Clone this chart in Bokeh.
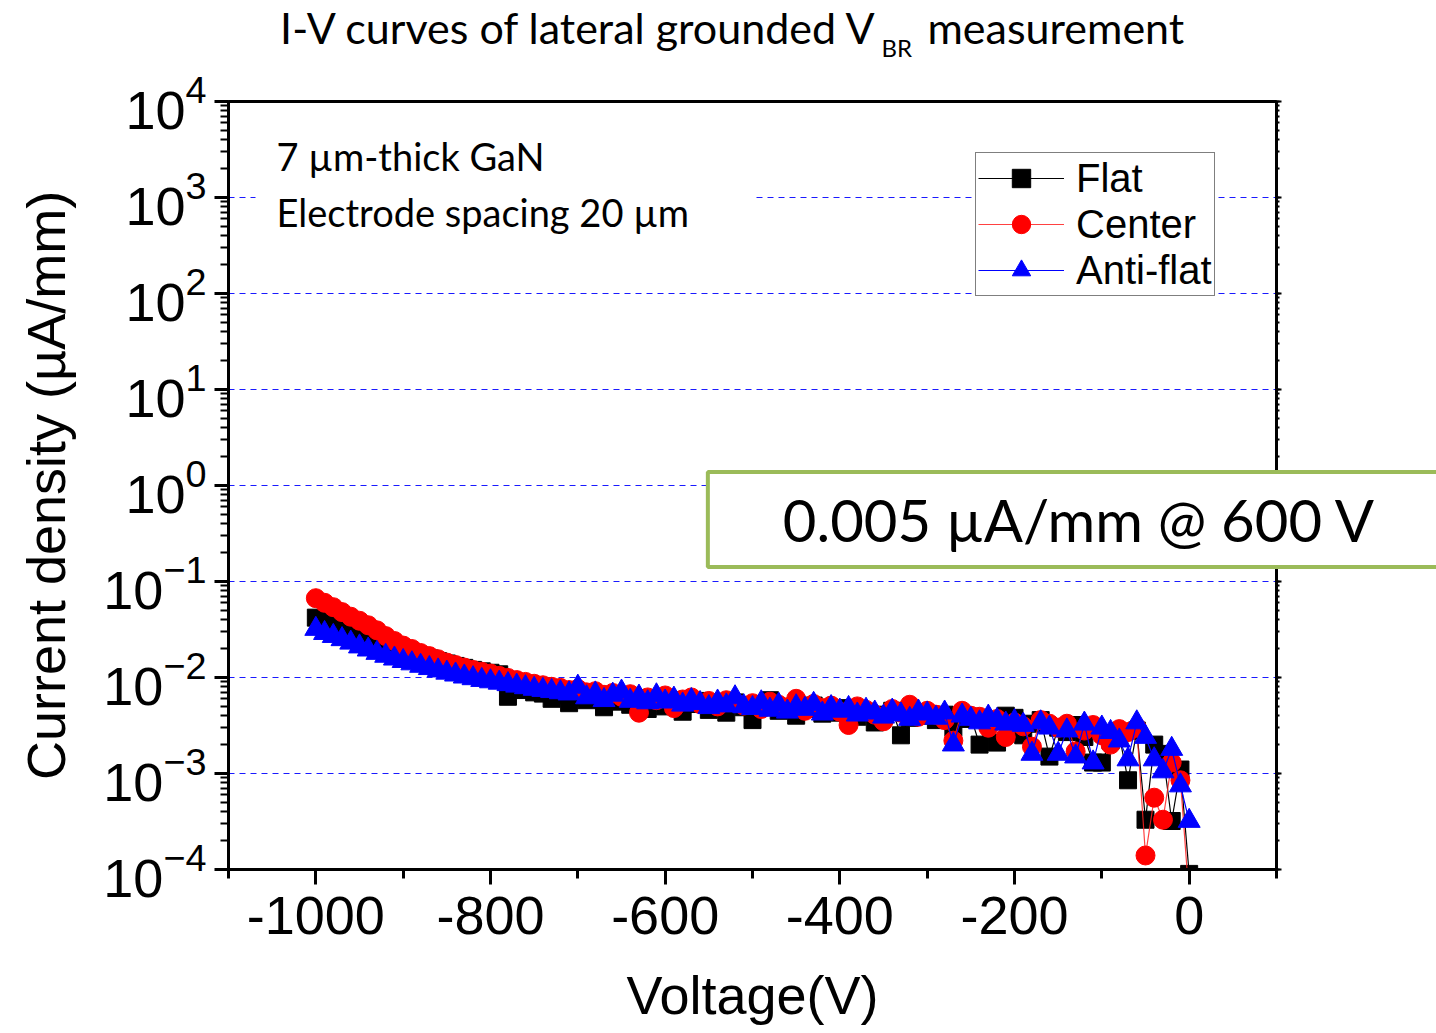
from bokeh.plotting import figure
from bokeh.models import (LogAxis, LogTicker, SingleIntervalTicker, Label, Legend,
                          LegendItem, ColumnDataSource, Range1d, GridBox, Column,
                          CustomJSTickFormatter)
from bokeh.embed import file_html
from bokeh.resources import INLINE

# Voltage sweep (V), 10 V steps
voltage = list(range(-1000, 10, 10))

# Current density (uA/mm)
flat = [
    0.042, 0.039, 0.036, 0.033, 0.031, 0.029, 0.027, 0.025, 0.023, 0.021,
    0.0195, 0.018, 0.0168, 0.0158, 0.0148, 0.014, 0.0132, 0.0126, 0.012, 0.0116,
    0.0112, 0.0108, 0.0063, 0.0080, 0.0074, 0.0070, 0.0068, 0.0060, 0.0066, 0.0054,
    0.0062, 0.0058, 0.0065, 0.0049, 0.0060, 0.0056, 0.0052, 0.0061, 0.0047, 0.0055,
    0.0050, 0.0058, 0.0044, 0.0053, 0.0057, 0.0046, 0.0051, 0.0043, 0.0055, 0.0049,
    0.0036, 0.0052, 0.0058, 0.0045, 0.0049, 0.0040, 0.0047, 0.0051, 0.0042, 0.0046,
    0.0043, 0.0048, 0.0039, 0.0044, 0.0034, 0.0041, 0.0045, 0.0025, 0.0038, 0.0042,
    0.0040, 0.0036, 0.0041, 0.0030, 0.0037, 0.0039, 0.0020, 0.0035, 0.0021, 0.0040,
    0.0038, 0.0025, 0.0033, 0.0036, 0.0015, 0.0030, 0.0027, 0.0032, 0.0024, 0.0013,
    0.0013, 0.0022, 0.0025, 0.00085, 0.0028, 0.00033, 0.0020, 0.0016, 0.00032, 0.0011,
    0.00009,
]
center = [
    0.067, 0.060, 0.054, 0.048, 0.043, 0.039, 0.035, 0.031, 0.027, 0.024,
    0.0215, 0.0198, 0.0180, 0.0167, 0.0155, 0.0143, 0.0135, 0.0127, 0.0120, 0.0115,
    0.0110, 0.0104, 0.0099, 0.0094, 0.0090, 0.0086, 0.0083, 0.0080, 0.0078, 0.0074,
    0.0076, 0.0070, 0.0072, 0.0066, 0.0069, 0.0063, 0.0067, 0.0043, 0.0062, 0.0058,
    0.0065, 0.0048, 0.0059, 0.0062, 0.0053, 0.0057, 0.0050, 0.0058, 0.0055, 0.0051,
    0.0054, 0.0047, 0.0056, 0.0052, 0.0049, 0.0060, 0.0045, 0.0053, 0.0048, 0.0051,
    0.0044, 0.0032, 0.0050, 0.0046, 0.0041, 0.0035, 0.0047, 0.0043, 0.0052, 0.0039,
    0.0045, 0.0041, 0.0036, 0.0022, 0.0045, 0.0040, 0.0039, 0.0030, 0.0037, 0.0024,
    0.0034, 0.0031, 0.0019, 0.0036, 0.0033, 0.0030, 0.0033, 0.0017, 0.0028, 0.0032,
    0.0025, 0.0020, 0.0029, 0.0027, 0.0030, 0.00014, 0.00056, 0.00033, 0.0013, 0.00085,
    0.00005,
]
anti_flat = [
    0.032, 0.029, 0.027, 0.025, 0.023, 0.021, 0.0195, 0.018, 0.0168, 0.0157,
    0.0148, 0.0140, 0.0132, 0.0125, 0.0118, 0.0112, 0.0107, 0.0102, 0.0098, 0.0094,
    0.0091, 0.0088, 0.0085, 0.0082, 0.0079, 0.0076, 0.0074, 0.0072, 0.0070, 0.0068,
    0.0080, 0.0062, 0.0068, 0.0058, 0.0066, 0.0071, 0.0057, 0.0063, 0.0055, 0.0065,
    0.0056, 0.0060, 0.0052, 0.0058, 0.0054, 0.0049, 0.0056, 0.0051, 0.0062, 0.0050,
    0.0048, 0.0055, 0.0046, 0.0052, 0.0044, 0.0050, 0.0047, 0.0053, 0.0042, 0.0049,
    0.0045, 0.0048, 0.0041, 0.0046, 0.0043, 0.0039, 0.0045, 0.0041, 0.0037, 0.0044,
    0.0042, 0.0038, 0.0043, 0.0020, 0.0040, 0.0037, 0.0034, 0.0039, 0.0036, 0.0033,
    0.0035, 0.0032, 0.0016, 0.0034, 0.0030, 0.0016, 0.0028, 0.0015, 0.0033, 0.0013,
    0.0030, 0.0027, 0.0022, 0.0014, 0.0034, 0.0024, 0.0014, 0.00105, 0.0018, 0.00075,
    0.00032,
]

series_names = ["Flat", "Center", "Anti-flat"]

src = ColumnDataSource(dict(v=voltage, flat=flat, center=center, anti=anti_flat))

W, H = 1436, 1033
p = figure(width=W, height=H, y_axis_type="log",
           x_range=Range1d(-1100, 100), y_range=Range1d(1e-4, 1e4),
           output_backend="svg", toolbar_location=None, title=None,
           min_border_left=228, min_border_right=160,
           min_border_top=101, min_border_bottom=164)

p.outline_line_color = "black"
p.outline_line_width = 3
p.background_fill_color = "white"
p.border_fill_color = "white"

# grid
p.xgrid.visible = False
for g in p.ygrid:
    g.grid_line_color = "#1a1aff"
    g.grid_line_dash = "6 5"
    g.grid_line_width = 1.2
    g.grid_line_alpha = 1.0

# x axis
xa = p.xaxis[0]
xa.ticker = SingleIntervalTicker(interval=200, num_minor_ticks=2)
xa.formatter = CustomJSTickFormatter(code="return tick.toFixed(0);")
xa.axis_line_width = 3
xa.major_tick_line_width = 3
xa.minor_tick_line_width = 3
xa.major_tick_out = 15
xa.major_tick_in = 0
xa.minor_tick_out = 9
xa.minor_tick_in = 0
xa.major_label_text_font = "Liberation Sans"
xa.major_label_text_font_size = "54px"
xa.major_label_text_color = "black"
xa.major_label_standoff = 12
xa.axis_label = "Voltage(V)"
xa.axis_label_text_font = "Liberation Sans"
xa.axis_label_text_font_size = "54px"
xa.axis_label_text_font_style = "normal"
xa.axis_label_text_color = "black"
xa.axis_label_standoff = 28

# y axis
ya = p.yaxis[0]
ya.ticker = LogTicker(desired_num_ticks=9, num_minor_ticks=10)
ya.axis_line_width = 3
ya.major_tick_line_width = 3
ya.minor_tick_line_width = 2
ya.major_tick_out = 14
ya.major_tick_in = 0
ya.minor_tick_out = 8
ya.minor_tick_in = 0
ya.major_label_text_font = "Liberation Sans"
ya.major_label_text_font_size = "54px"
ya.major_label_text_color = "black"
ya.major_label_standoff = 8
ya.axis_label = "Current density (\u00b5A/mm)"
ya.axis_label_text_font = "Liberation Sans"
ya.axis_label_text_font_size = "54px"
ya.axis_label_text_font_style = "normal"
ya.axis_label_text_color = "black"
ya.axis_label_standoff = 24

# right axis (ticks only)
ra = LogAxis(ticker=LogTicker(desired_num_ticks=9, num_minor_ticks=10))
ra.axis_line_width = 3
ra.major_tick_line_width = 2
ra.minor_tick_line_width = 2
ra.major_tick_out = 5
ra.major_tick_in = 0
ra.minor_tick_out = 3
ra.minor_tick_in = 0
ra.major_label_text_color = None
ra.major_label_text_font_size = "10px"
p.add_layout(ra, "right")

# series
l1 = p.line("v", "flat", source=src, line_color="black", line_width=1.2)
s1 = p.scatter("v", "flat", source=src, marker="square", size=17,
               fill_color="black", line_color="black")
l2 = p.line("v", "center", source=src, line_color="#FF2020", line_width=1.2, line_alpha=0.85)
s2 = p.scatter("v", "center", source=src, marker="circle", size=19,
               fill_color="#FF0000", line_color="#FF0000")
l3 = p.line("v", "anti", source=src, line_color="#0000FF", line_width=1.2)
s3 = p.scatter("v", "anti", source=src, marker="triangle", size=22,
               fill_color="#0000FF", line_color="#0000FF")

legend = Legend(items=[
    LegendItem(label=series_names[0], renderers=[l1, s1]),
    LegendItem(label=series_names[1], renderers=[l2, s2]),
    LegendItem(label=series_names[2], renderers=[l3, s3]),
], location=(747, 573))
legend.border_line_color = "black"
legend.border_line_width = 1
legend.background_fill_color = "white"
legend.background_fill_alpha = 1
legend.label_text_font = "Liberation Sans"
legend.label_text_font_size = "40px"
legend.label_text_color = "black"
legend.glyph_width = 86
legend.glyph_height = 46
legend.label_height = 40
legend.spacing = 0
legend.padding = 2
legend.margin = 0
legend.label_standoff = 12
p.add_layout(legend)

# ---- overlay (texts that sit partly outside the plot frame) ----
ov = figure(width=W, height=H, x_range=Range1d(0, W), y_range=Range1d(H, 0),
            output_backend="svg", toolbar_location=None, title=None,
            min_border=0, x_axis_location=None, y_axis_location=None)
ov.grid.visible = False
ov.outline_line_color = None
ov.background_fill_color = None
ov.border_fill_color = None

ov.add_layout(Label(x=276, y=155, text="7 \u00b5m-thick GaN", text_font="Lato",
                    text_font_size="38px", text_color="black",
                    text_baseline="alphabetic"))
ov.add_layout(Label(x=255, y=211, text="Electrode spacing 20 \u00b5m", text_font="Lato",
                    text_font_size="38px", text_color="black",
                    text_baseline="alphabetic", background_fill_color="white",
                    padding=dict(left=21, right=66, top=4, bottom=4)))

ov.add_layout(Label(x=1079, y=519, text="0.005 \u00b5A/mm @ 600 V", text_font="Lato",
                    text_font_size="58px", text_color="black", text_align="center",
                    text_baseline="middle", background_fill_color="white",
                    border_line_color="#9BBB59", border_line_width=4,
                    padding=dict(left=75, right=75, top=13, bottom=13)))

ov.add_layout(Label(x=878, y=27, text="I-V curves of lateral grounded V", text_font="Lato",
                    text_font_size="43px", text_color="black", text_align="right",
                    text_baseline="alphabetic"))
ov.add_layout(Label(x=881, y=47, text="BR", text_font="Lato",
                    text_font_size="24px", text_color="black", text_align="left",
                    text_baseline="alphabetic"))
ov.add_layout(Label(x=927, y=27, text="measurement", text_font="Lato",
                    text_font_size="43px", text_color="black", text_align="left",
                    text_baseline="alphabetic"))

layout = GridBox(children=[(p, 0, 0), (Column(children=[ov]), 0, 0)])

open("out.html", "w").write(file_html(layout, INLINE))
